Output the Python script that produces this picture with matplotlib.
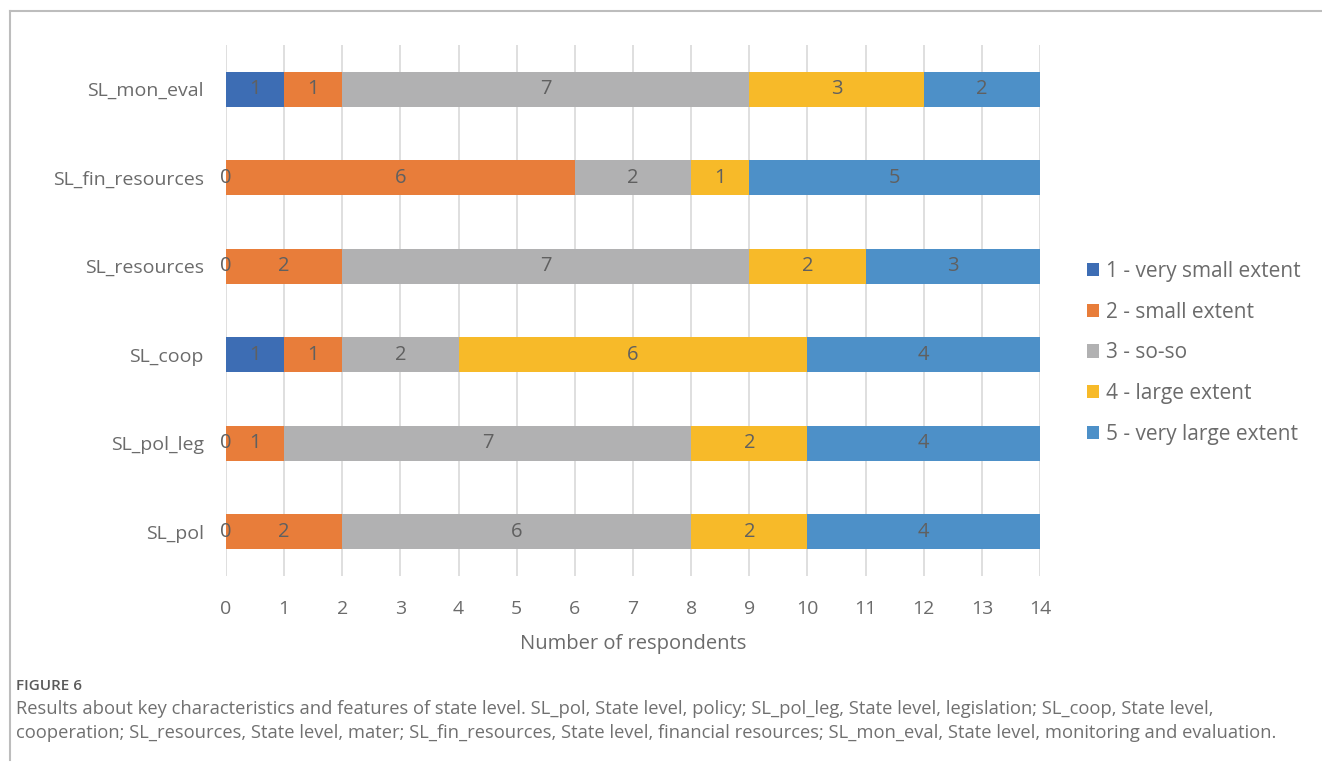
import matplotlib
matplotlib.use("Agg")
import matplotlib.pyplot as plt
from matplotlib.lines import Line2D
import numpy as np

plt.rcParams['font.family'] = ['Open Sans', 'DejaVu Sans']

categories = ["SL_pol", "SL_pol_leg", "SL_coop", "SL_resources",
              "SL_fin_resources", "SL_mon_eval"]
series_names = ["1 - very small extent", "2 - small extent", "3 - so-so",
                "4 - large extent", "5 - very large extent"]
very_small = [0, 0, 1, 0, 0, 1]
small = [2, 1, 1, 2, 6, 1]
so_so = [6, 7, 2, 7, 2, 7]
large = [2, 2, 6, 2, 1, 3]
very_large = [4, 4, 4, 3, 5, 2]
x_ticks = list(range(0, 15))

colors = ["#3D6DB4", "#E87D3A", "#B1B1B2", "#F7BA29", "#4D90C8"]
text_color = "#6B6B6B"

series = [very_small, small, so_so, large, very_large]

fig = plt.figure(figsize=(13.22, 7.66), dpi=100)
ax = fig.add_axes([226 / 1322, 1 - 576 / 766, (1040 - 226) / 1322, (576 - 45) / 766])

y = np.arange(len(categories))
left = np.zeros(len(categories))
handles = []
for vals, col, name in zip(series, colors, series_names):
    vals = np.array(vals, dtype=float)
    bars = ax.barh(y, vals, left=left, height=0.4, color=col, zorder=2, label=name)
    for yi, l, v in zip(y, left, vals):
        ax.text(l + v / 2, yi, f"{int(v)}", ha="center", va="center",
                fontsize=14.5, color="#606060", zorder=3)
    left += vals
    handles.append(bars)

ax.set_xlim(0, 14)
ax.set_ylim(-0.5, len(categories) - 0.5)
ax.set_xticks(x_ticks)
ax.set_yticks(y)
ax.set_yticklabels(categories)
ax.tick_params(axis="both", length=0, labelsize=14, colors=text_color)
ax.tick_params(axis="x", pad=17)
ax.tick_params(axis="y", pad=16)
ax.grid(axis="x", color="#D9D9D9", linewidth=1.2, zorder=0)
for s in ax.spines.values():
    s.set_visible(False)
ax.set_xlabel("Number of respondents", fontsize=14.5, color=text_color, labelpad=12)

leg = fig.legend(handles=handles, labels=series_names, loc="upper left",
                 bbox_to_anchor=(1068 / 1322, 1 - 242 / 766), frameon=False,
                 fontsize=15, labelcolor=text_color, handlelength=0.6,
                 handleheight=0.6, handletextpad=0.3, labelspacing=0.95)

# outer frame lines (top and left)
fig.add_artist(Line2D([10 / 1322, 1.0], [1 - 11 / 766, 1 - 11 / 766],
                      color="#BDBDBD", linewidth=1.5, transform=fig.transFigure))
fig.add_artist(Line2D([10 / 1322, 10 / 1322], [1 - 11 / 766, 1 - 760 / 766],
                      color="#BDBDBD", linewidth=1.5, transform=fig.transFigure))

fig.text(16 / 1322, 1 - 686 / 766, "FIGURE 6", fontsize=11, fontweight="semibold",
         color="#5A5A5A", va="center", ha="left")
fig.text(16 / 1322, 1 - 709 / 766,
         "Results about key characteristics and features of state level. SL_pol, State level, policy; "
         "SL_pol_leg, State level, legislation; SL_coop, State level,",
         fontsize=13.2, color="#707070", va="center", ha="left")
fig.text(16 / 1322, 1 - 733 / 766,
         "cooperation; SL_resources, State level, mater; SL_fin_resources, State level, financial resources; "
         "SL_mon_eval, State level, monitoring and evaluation.",
         fontsize=13.2, color="#707070", va="center", ha="left")

fig.savefig("out.png", dpi=100, facecolor="white")
